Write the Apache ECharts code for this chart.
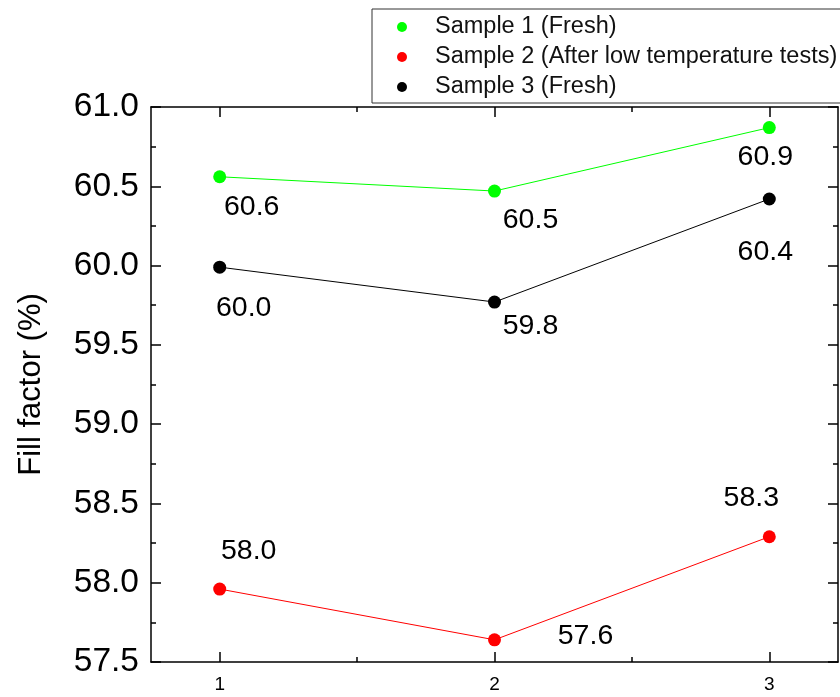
<!DOCTYPE html>
<html>
<head>
<meta charset="utf-8">
<script src="https://cdn.jsdelivr.net/npm/echarts@6/dist/echarts.min.js"></script>
<style>
  html, body { margin: 0; padding: 0; background: #fff; }
  #chart { width: 840px; height: 697px; }
</style>
</head>
<body>
<div id="chart"></div>
<script>
// ---- data ----
const samples = [1, 2, 3];
const seriesNames = ['Sample 1 (Fresh)', 'Sample 2 (After low temperature tests)', 'Sample 3 (Fresh)'];
const sample1 = [60.56, 60.47, 60.87];
const sample2 = [57.96, 57.64, 58.29];
const sample3 = [59.99, 59.77, 60.42];
const xMajorTicks = [1, 2, 3];
const xMinorTicks = [1.5, 2.5];

// ---- styles (label offsets relative to the point, px) ----
const colors = ['#00ff00', '#ff0000', '#000000'];
const labelOffsets = [
  [[32, 30], [36, 29], [-4, 30]],
  [[29, -38], [91, -4], [-18, -39]],
  [[24, 41], [36, 24], [-4, 53]]
];
const FONT = '"Liberation Sans", Arial, sans-serif';

const chart = echarts.init(document.getElementById('chart'), null, { renderer: 'canvas' });

function mkSeries(name, values, idx) {
  return {
    name: name,
    type: 'line',
    xAxisIndex: 0,
    yAxisIndex: 0,
    data: values.map((v, i) => ({
      value: [samples[i], v],
      label: { offset: labelOffsets[idx][i] }
    })),
    symbol: 'circle',
    symbolSize: 13,
    itemStyle: { color: colors[idx] },
    lineStyle: { color: colors[idx], width: 1 },
    label: {
      show: true,
      position: 'inside',
      formatter: p => p.value[1].toFixed(1),
      color: '#000',
      fontSize: 28.5,
      fontFamily: FONT
    },
    emphasis: { disabled: true },
    z: 3
  };
}

const xBase = { type: 'value', min: 0.75, max: 3.25, splitLine: { show: false } };
const axisLineStyle = { color: '#000', width: 1.5 };

const option = {
  animation: false,
  backgroundColor: '#fff',
  grid: { left: 151, right: 2, top: 107, bottom: 35, containLabel: false },
  legend: {
    orient: 'vertical',
    left: 372,
    top: 9,
    padding: [6, 4, 4, 25],
    itemWidth: 56,
    itemHeight: 10,
    itemGap: 6,
    icon: 'circle',
    borderColor: '#333',
    borderWidth: 1,
    data: seriesNames,
    textStyle: { fontSize: 23.5, fontFamily: FONT, color: '#111', lineHeight: 23 }
  },
  xAxis: [
    Object.assign({}, xBase, {
      position: 'bottom',
      axisLine: { show: true, lineStyle: axisLineStyle },
      axisTick: { show: true, inside: true, length: 10, customValues: xMajorTicks, lineStyle: axisLineStyle },
      axisLabel: { show: true, customValues: xMajorTicks, fontSize: 19, fontFamily: FONT, color: '#000', margin: 13 }
    }),
    Object.assign({}, xBase, {
      position: 'bottom',
      axisLine: { show: false },
      axisTick: { show: true, inside: true, length: 5, customValues: xMinorTicks, lineStyle: axisLineStyle },
      axisLabel: { show: false }
    }),
    Object.assign({}, xBase, {
      position: 'top',
      axisLine: { show: true, lineStyle: axisLineStyle },
      axisTick: { show: true, inside: true, length: 10, customValues: xMajorTicks, lineStyle: axisLineStyle },
      axisLabel: { show: false }
    }),
    Object.assign({}, xBase, {
      position: 'top',
      axisLine: { show: false },
      axisTick: { show: true, inside: true, length: 5, customValues: xMinorTicks, lineStyle: axisLineStyle },
      axisLabel: { show: false }
    })
  ],
  yAxis: [
    {
      type: 'value', position: 'left', min: 57.5, max: 61, interval: 0.5,
      name: 'Fill factor (%)', nameLocation: 'middle', nameGap: 104,
      nameTextStyle: { fontSize: 31, fontFamily: FONT, color: '#000' },
      axisLine: { show: true, lineStyle: axisLineStyle },
      axisTick: { show: true, inside: true, length: 10, lineStyle: axisLineStyle },
      minorTick: { show: true, splitNumber: 2, length: 5, lineStyle: axisLineStyle },
      axisLabel: { fontSize: 33.5, fontFamily: FONT, color: '#000', margin: 12, formatter: v => v.toFixed(1) },
      splitLine: { show: false }
    },
    {
      type: 'value', position: 'right', min: 57.5, max: 61, interval: 0.5,
      axisLine: { show: true, lineStyle: axisLineStyle },
      axisTick: { show: true, inside: true, length: 10, lineStyle: axisLineStyle },
      minorTick: { show: true, splitNumber: 2, length: 5, lineStyle: axisLineStyle },
      axisLabel: { show: false },
      splitLine: { show: false }
    }
  ],
  series: [
    mkSeries(seriesNames[0], sample1, 0),
    mkSeries(seriesNames[1], sample2, 1),
    mkSeries(seriesNames[2], sample3, 2)
  ]
};

chart.setOption(option);
</script>
</body>
</html>
